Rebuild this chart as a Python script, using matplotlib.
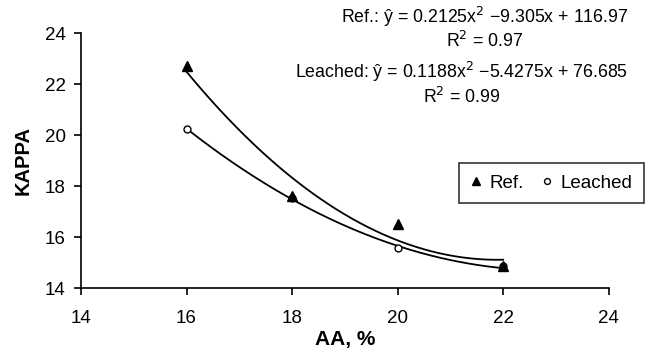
import matplotlib.pyplot as plt
import numpy as np

plt.rcParams['font.family'] = ['Liberation Sans', 'DejaVu Sans']

# data
aa = [16, 18, 20, 22]
kappa_ref = [22.7, 17.6, 16.5, 14.87]
kappa_leached = [20.24, 17.55, 15.56, 14.85]

# trendline coefficients as printed on the chart
coef_ref = [0.2125, -9.305, 116.97]
coef_leached = [0.1188, -5.4275, 76.685]

fig = plt.figure(figsize=(6.48, 3.58), dpi=100)
ax = fig.add_axes([0.125, 0.1955, 0.8143, 0.7115])

xs = np.linspace(16, 22, 200)
ax.plot(xs, np.polyval(coef_ref, xs), color='black', lw=1.3)
ax.plot(xs, np.polyval(coef_leached, xs), color='black', lw=1.3)

ax.plot(aa, kappa_leached, 'o', ms=5, mfc='white', mec='black', mew=1, ls='none', label='Leached')
ax.plot(aa, kappa_ref, '^', ms=6.5, color='black', ls='none', label='Ref.')

ax.set_xlim(14, 24)
ax.set_ylim(14, 24)
ax.set_xticks([14, 16, 18, 20, 22, 24])
ax.set_yticks([14, 16, 18, 20, 22, 24])
ax.tick_params(labelsize=13.5, direction='out', length=5, width=1.2)
ax.tick_params(axis='x', pad=11)
ax.tick_params(axis='y', pad=6)
for s in ['top', 'right']:
    ax.spines[s].set_visible(False)
for s in ['left', 'bottom']:
    ax.spines[s].set_linewidth(1.2)

ax.set_xlabel('AA, %', fontsize=15, fontweight='bold', labelpad=2)
ax.set_ylabel('KAPPA', fontsize=14.5, fontweight='bold', labelpad=9)

h, l = ax.get_legend_handles_labels()
leg = fig.legend(h[::-1], l[::-1], ncol=2, loc='center left',
                 bbox_to_anchor=(0.708, 0.489), frameon=True, fancybox=False,
                 edgecolor='black', fontsize=13.5, handlelength=0.6,
                 handletextpad=0.45, columnspacing=0.9, borderpad=0.6,
                 borderaxespad=0, markerscale=0.85)
leg.get_frame().set_linewidth(1.2)

fig.text(0.748, 0.935, 'Ref.: ŷ = 0.2125x$^2$ −9.305x + 116.97', ha='center', va='baseline', fontsize=12.8)
fig.text(0.748, 0.8696, 'R$^2$ = 0.97', ha='center', va='baseline', fontsize=12.8)
fig.text(0.713, 0.7813, 'Leached: ŷ = 0.1188x$^2$ −5.4275x + 76.685', ha='center', va='baseline', fontsize=12.8)
fig.text(0.713, 0.7115, 'R$^2$ = 0.99', ha='center', va='baseline', fontsize=12.8)

fig.savefig('out.png', dpi=100)
